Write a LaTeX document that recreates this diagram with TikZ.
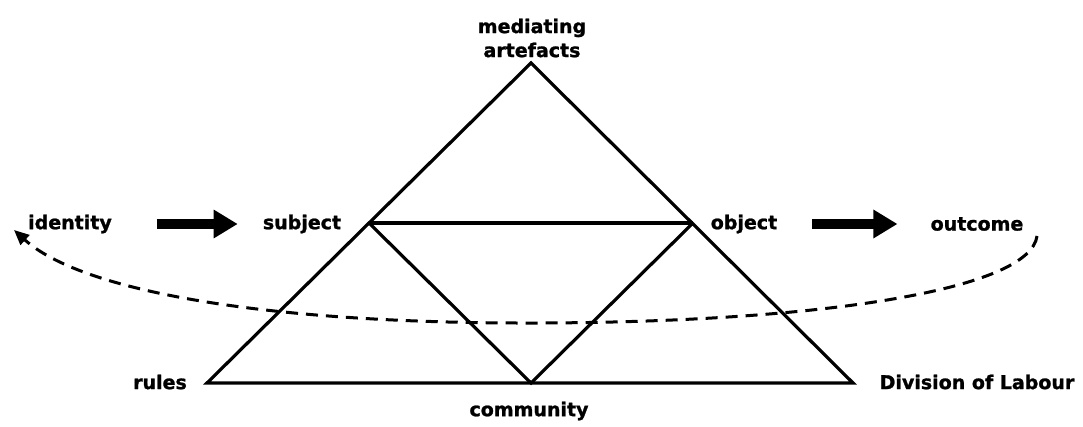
\documentclass[tikz,border=0pt]{standalone}
\usepackage{fontspec}
\setmainfont{DejaVu Sans}[BoldFeatures={FakeBold=1.2}]
\usetikzlibrary{arrows.meta}
\tikzset{
  lbl/.style={font=\fontsize{19}{24}\selectfont\bfseries, inner sep=0pt, align=center},
  edge/.style={line width=3.2pt, line join=miter},
  bigarrow/.style={line width=10pt, -{Triangle[length=24pt,width=27pt]}},
  loop/.style={line width=3pt, dash pattern=on 12pt off 8pt, -{Triangle[length=15pt,width=13pt]}}
}
\begin{document}
\begin{tikzpicture}[x=1pt,y=-1pt]
\useasboundingbox (0,0) rectangle (1083,427);
% triangle vertices
\coordinate (A) at (531,63);
\coordinate (L) at (207,383);
\coordinate (R) at (853,383);
\coordinate (S) at (369,223);
\coordinate (O) at (693,223);
\coordinate (C) at (531,383);
\draw[edge] (A) -- (L) -- (R) -- cycle;
\draw[edge] (S) -- (O);
\draw[edge] (S) -- (C) -- (O);
% labels
\node[lbl] (med) at (532,38) {mediating\\artefacts};
\node[lbl] (identity) at (70,224) {identity};
\node[lbl] (subject) at (302,224) {subject};
\node[lbl] (object) at (744,224) {object};
\node[lbl] (outcome) at (977,224) {outcome};
\node[lbl] (rules) at (160,382) {rules};
\node[lbl] (community) at (529,411) {community};
\node[lbl] (dol) at (977,382) {Division of Labour};
% thick arrows
\draw[bigarrow, shorten <=45pt, shorten >=25pt] (identity) -- (subject);
\draw[bigarrow, shorten <=35pt, shorten >=33pt] (object) -- (outcome);
% dashed loop
\coordinate (loopstart) at (1037,236);
\coordinate (loopbot) at (540,323);
\coordinate (loopend) at (14,230);
\draw[loop] (loopstart) .. controls (1030,290) and (820,322) .. (loopbot)
  .. controls (260,324) and (80,290) .. (loopend);
\end{tikzpicture}
\end{document}
